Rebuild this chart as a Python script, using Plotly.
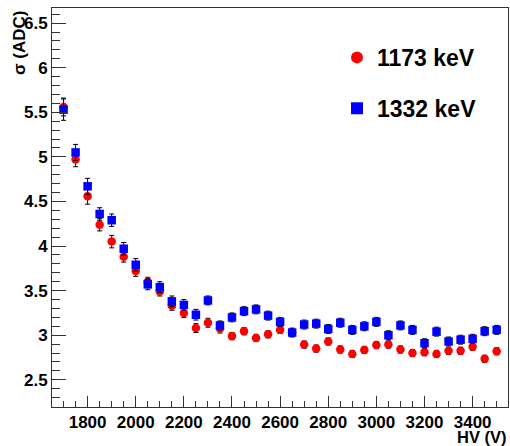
import plotly.graph_objects as go

hv = [1700, 1750, 1800, 1850, 1900, 1950, 2000, 2050, 2100, 2150, 2200, 2250, 2300,
      2350, 2400, 2450, 2500, 2550, 2600, 2650, 2700, 2750, 2800, 2850, 2900, 2950,
      3000, 3050, 3100, 3150, 3200, 3250, 3300, 3350, 3400, 3450, 3500]

sigma_1173 = [5.56, 4.97, 4.56, 4.24, 4.05, 3.88, 3.72, 3.60, 3.49, 3.33, 3.25, 3.08, 3.14,
              3.075, 2.99, 3.045, 2.97, 3.01, 3.06, 3.03, 2.895, 2.85, 2.93, 2.84, 2.79, 2.835,
              2.89, 2.895, 2.84, 2.80, 2.81, 2.79, 2.825, 2.825, 2.87, 2.735, 2.82]
err_1173 = [0.10, 0.08, 0.09, 0.07, 0.07, 0.06, 0.06, 0.05, 0.05, 0.05, 0.05, 0.05, 0.05,
            0.05, 0.04, 0.04, 0.04, 0.04, 0.04, 0.04, 0.04, 0.04, 0.04, 0.04, 0.04, 0.04,
            0.04, 0.04, 0.04, 0.04, 0.04, 0.04, 0.04, 0.04, 0.04, 0.04, 0.04]

sigma_1332 = [5.53, 5.05, 4.67, 4.36, 4.29, 3.97, 3.79, 3.57, 3.54, 3.38, 3.34, 3.23, 3.39,
              3.11, 3.20, 3.27, 3.29, 3.22, 3.15, 3.03, 3.12, 3.13, 3.07, 3.14, 3.06, 3.10,
              3.15, 3.00, 3.11, 3.06, 2.91, 3.04, 2.93, 2.95, 2.96, 3.045, 3.06]
err_1332 = [0.12, 0.09, 0.09, 0.07, 0.07, 0.07, 0.07, 0.06, 0.06, 0.06, 0.06, 0.06, 0.05,
            0.05, 0.05, 0.05, 0.05, 0.05, 0.05, 0.05, 0.05, 0.05, 0.05, 0.05, 0.05, 0.05,
            0.05, 0.05, 0.05, 0.05, 0.05, 0.05, 0.05, 0.05, 0.05, 0.05, 0.05]

series_names = ["1173 keV", "1332 keV"]

FONT = "Liberation Sans, Arial, Helvetica, sans-serif"

fig = go.Figure()
fig.add_trace(go.Scatter(
    x=hv, y=sigma_1173, mode="markers", name=series_names[0], legendgroup="a",
    marker=dict(symbol="circle", size=8.5, color="#ff0000"),
    error_y=dict(type="data", array=err_1173, color="black", thickness=1, width=2.5),
))
fig.add_trace(go.Scatter(
    x=hv, y=sigma_1332, mode="markers", name=series_names[1], legendgroup="b",
    marker=dict(symbol="square", size=8.5, color="#0000ff"),
    error_y=dict(type="data", array=err_1332, color="black", thickness=1, width=2.5),
))

axis_common = dict(
    showgrid=False, zeroline=False, showline=True, linecolor="#333333", linewidth=1,
    mirror=True, ticks="inside", tickcolor="#333333", tickwidth=1,
    tickfont=dict(family=FONT, size=17, color="black", weight="bold"),
)

fig.update_xaxes(
    range=[1652, 3547], tick0=1800, dtick=200, ticklen=11,
    minor=dict(ticks="inside", dtick=50, tick0=1800, ticklen=6, tickcolor="#333333"),
    **axis_common,
)
fig.update_yaxes(
    range=[2.195, 6.67], tick0=2.5, dtick=0.5, ticklen=14,
    minor=dict(ticks="inside", dtick=0.1, tick0=2.5, ticklen=8, tickcolor="#333333"),
    **axis_common,
)

fig.add_annotation(
    text="σ (ADC)", xref="paper", yref="paper", x=-0.071, y=1.0,
    xanchor="center", yanchor="top", textangle=-90, showarrow=False,
    font=dict(family=FONT, size=17, color="black", weight="bold"),
)
fig.add_annotation(
    text="HV (V)", xref="paper", yref="paper", x=1.0, y=-0.074,
    xanchor="right", yanchor="middle", showarrow=False, borderpad=0,
    font=dict(family=FONT, size=16.5, color="black", weight="bold"),
)

fig.update_layout(
    width=510, height=446,
    margin=dict(l=52, r=2, t=8, b=39),
    paper_bgcolor="white", plot_bgcolor="white",
    showlegend=True,
    legend=dict(
        x=0.625, y=0.93, xanchor="left", yanchor="top",
        bgcolor="rgba(0,0,0,0)", borderwidth=0,
        font=dict(family=FONT, size=23, color="black", weight="bold"),
        tracegroupgap=18, itemsizing="constant",
    ),
)

fig.write_html(
    "out.html",
    config={"displayModeBar": False},
    post_script="document.body.style.margin='0';document.body.style.overflow='hidden';",
)
